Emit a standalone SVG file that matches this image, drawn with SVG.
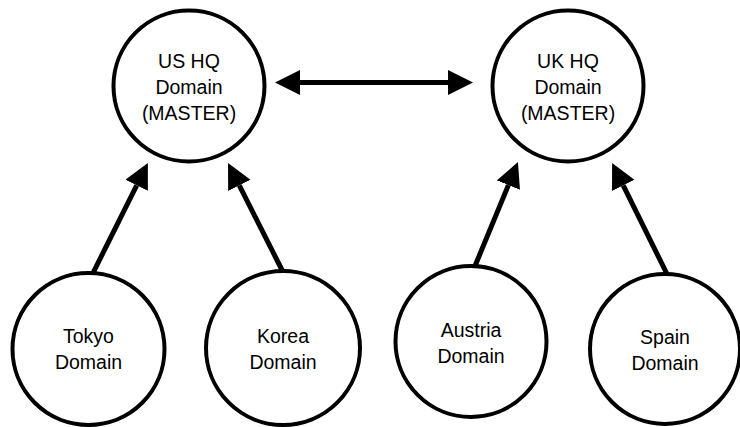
<svg xmlns="http://www.w3.org/2000/svg" width="740" height="427" viewBox="0 0 740 427">
<style>
.node{fill:#fff;stroke:#000;stroke-width:4}
.lbl{font-family:"Liberation Sans",Arial,sans-serif;font-size:19.5px;fill:#000;text-anchor:middle}
.edge{stroke:#000;stroke-width:5;fill:none}
</style>
<defs>
<marker id="ah" markerUnits="userSpaceOnUse" markerWidth="26" markerHeight="26" refX="0" refY="12.5" orient="auto-start-reverse" viewBox="0 0 26 26">
<path d="M0,0 L25,12.5 L0,25 z" fill="#000"/>
</marker>
</defs>
<rect width="740" height="427" fill="#fff"/>
<g id="us-hq">
<circle class="node" cx="189" cy="86" r="75.5"/>
<text class="lbl" x="189" y="68">US HQ</text>
<text class="lbl" x="189" y="94">Domain</text>
<text class="lbl" x="189" y="120">(MASTER)</text>
</g>
<g id="uk-hq">
<circle class="node" cx="568" cy="86" r="75.5"/>
<text class="lbl" x="568" y="68">UK HQ</text>
<text class="lbl" x="568" y="94">Domain</text>
<text class="lbl" x="568" y="120">(MASTER)</text>
</g>
<g id="tokyo">
<circle class="node" cx="88.5" cy="349" r="76"/>
<text class="lbl" x="88.5" y="343">Tokyo</text>
<text class="lbl" x="88.5" y="369">Domain</text>
</g>
<g id="korea">
<circle class="node" cx="283" cy="348" r="77"/>
<text class="lbl" x="283" y="343">Korea</text>
<text class="lbl" x="283" y="369">Domain</text>
</g>
<g id="austria">
<circle class="node" cx="471" cy="341.5" r="75.5"/>
<text class="lbl" x="471" y="337">Austria</text>
<text class="lbl" x="471" y="362.5">Domain</text>
</g>
<g id="spain">
<circle class="node" cx="665" cy="349" r="75"/>
<text class="lbl" x="665" y="344">Spain</text>
<text class="lbl" x="665" y="370">Domain</text>
</g>
<g id="connectors">
<line class="edge" x1="300" y1="82.5" x2="448" y2="82.5" marker-start="url(#ah)" marker-end="url(#ah)"/>
<line class="edge" x1="93" y1="273" x2="136.7" y2="185.3" marker-end="url(#ah)"/>
<line class="edge" x1="283" y1="272" x2="239.3" y2="185.3" marker-end="url(#ah)"/>
<line class="edge" x1="475" y1="266" x2="508.4" y2="185.1" marker-end="url(#ah)"/>
<line class="edge" x1="667" y1="274" x2="623.2" y2="185.4" marker-end="url(#ah)"/>
</g>
</svg>
